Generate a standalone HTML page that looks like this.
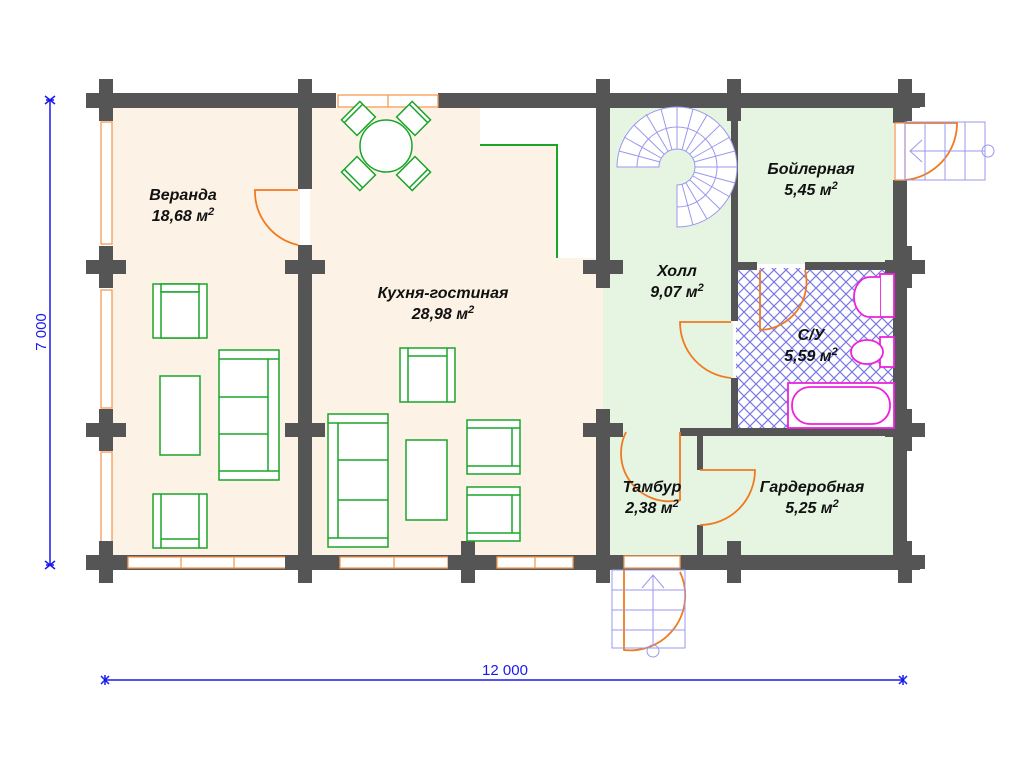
<!DOCTYPE html>
<html><head><meta charset="utf-8"><style>
html,body{margin:0;padding:0;background:#fff;width:1024px;height:768px;overflow:hidden}
text{font-family:"Liberation Sans",sans-serif;font-style:italic;font-weight:bold;fill:#111;font-size:16px}
</style></head><body>
<svg width="1024" height="768" viewBox="0 0 1024 768" xmlns="http://www.w3.org/2000/svg">
<defs>
<pattern id="hatch" width="12" height="12" patternUnits="userSpaceOnUse">
<rect width="12" height="12" fill="#fff"/>
<path d="M0 0L12 12M12 0L0 12" stroke="#7b78e6" stroke-width="1.2"/>
</pattern>
<g id="post"><rect x="-7" y="-21" width="14" height="42" fill="#555"/><rect x="-20" y="-7" width="40" height="14" fill="#555"/></g>
</defs>
<!-- floors -->
<rect x="112" y="108" width="188" height="448" fill="#fdf2e6"/>
<rect x="310" y="108" width="293" height="448" fill="#fdf2e6"/>
<rect x="480" y="108" width="116" height="37" fill="#fff"/>
<rect x="557" y="108" width="39" height="150" fill="#fff"/>
<path d="M480 145H557V258" fill="none" stroke="#1aa52a" stroke-width="2"/>
<line x1="597" y1="108" x2="597" y2="258" stroke="#1aa52a" stroke-width="2"/>
<rect x="603" y="108" width="130" height="448" fill="#e5f5e2"/>
<rect x="736" y="108" width="158" height="156" fill="#e5f5e2"/>
<rect x="736" y="268" width="158" height="162" fill="url(#hatch)"/>
<rect x="700" y="434" width="194" height="122" fill="#e5f5e2"/>
<!-- walls -->
<rect x="86" y="93" width="250" height="15" fill="#555"/>
<rect x="438" y="93" width="482" height="15" fill="#555"/>
<rect x="86" y="555" width="834" height="15" fill="#555"/>
<rect x="298" y="93" width="14" height="96" fill="#555"/>
<rect x="298" y="245" width="14" height="325" fill="#555"/>
<rect x="596" y="93" width="14" height="190" fill="#555"/>
<rect x="596" y="412" width="14" height="158" fill="#555"/>
<rect x="893" y="93" width="14" height="30" fill="#555"/>
<rect x="893" y="180" width="14" height="390" fill="#555"/>
<rect x="731" y="93" width="7" height="228" fill="#555"/>
<rect x="731" y="378" width="7" height="58" fill="#555"/>
<rect x="738" y="262" width="19" height="8" fill="#555"/>
<rect x="805" y="262" width="102" height="8" fill="#555"/>
<rect x="680" y="428" width="227" height="8" fill="#555"/>
<rect x="697" y="436" width="6" height="34" fill="#555"/>
<rect x="697" y="525" width="6" height="35" fill="#555"/>
<!-- windows -->
<g fill="#fff" stroke="#f39a55" stroke-width="1.3">
<rect x="338" y="95" width="100" height="12"/><line x1="388" y1="95" x2="388" y2="107"/>
<rect x="101" y="122" width="11" height="122"/><rect x="101" y="290" width="11" height="118"/><rect x="101" y="452" width="11" height="92"/>
<rect x="128" y="557" width="160" height="11"/><line x1="181" y1="557" x2="181" y2="568"/><line x1="234" y1="557" x2="234" y2="568"/>
<rect x="340" y="557" width="108" height="11"/><line x1="394" y1="557" x2="394" y2="568"/>
<rect x="497" y="557" width="76" height="11"/><line x1="535" y1="557" x2="535" y2="568"/>
<rect x="624" y="556" width="56" height="12"/>
<rect x="895" y="123" width="10" height="57"/>
</g>
<!-- posts -->
<g>
<use href="#post" x="106" y="100"/><use href="#post" x="305" y="100"/><use href="#post" x="603" y="100"/><use href="#post" x="734" y="100"/><use href="#post" x="905" y="100"/>
<use href="#post" x="106" y="267"/><use href="#post" x="305" y="267"/><use href="#post" x="603" y="267"/><use href="#post" x="905" y="267"/>
<use href="#post" x="106" y="430"/><use href="#post" x="305" y="430"/><use href="#post" x="603" y="430"/><use href="#post" x="905" y="430"/>
<use href="#post" x="106" y="562"/><use href="#post" x="305" y="562"/><use href="#post" x="468" y="562"/><use href="#post" x="603" y="562"/><use href="#post" x="734" y="562"/><use href="#post" x="905" y="562"/>
</g>
<!-- doors -->
<g fill="none" stroke="#f07a20" stroke-width="1.8">
<path d="M298 190H255A55 55 0 0 0 298 245"/>
<path d="M731 322H680A56 56 0 0 0 731 378"/>
<path d="M760 270V330A48 48 0 0 0 805 270"/>
<path d="M626 432A48 48 0 0 0 680 500V432"/>
<path d="M700 470H755A55 55 0 0 1 700 525"/>
<path d="M624 570V650A55 55 0 0 0 680 572"/>
<path d="M905 123H957A57 57 0 0 1 905 180"/>
</g>
<!-- stairs -->
<g fill="none" stroke="#9a98ee" stroke-width="1">
<rect x="612" y="570" width="73" height="78"/>
<line x1="612" y1="590" x2="685" y2="590"/><line x1="612" y1="610" x2="685" y2="610"/><line x1="612" y1="630" x2="685" y2="630"/>
<line x1="653" y1="575" x2="653" y2="645"/><path d="M642 588L653 575L664 588"/><circle cx="653" cy="651" r="6"/>
<rect x="905" y="122" width="80" height="58"/>
<line x1="925" y1="122" x2="925" y2="180"/><line x1="945" y1="122" x2="945" y2="180"/><line x1="965" y1="122" x2="965" y2="180"/>
<line x1="910" y1="151" x2="985" y2="151"/><path d="M922 140L910 151L922 162"/><circle cx="988" cy="151" r="6"/>
<!-- spiral: 3/4 ring centre 677,167 -->
<path d="M617 167A60 60 0 1 1 677 227V185A18 18 0 1 0 659 167Z" fill="#fff"/>
<path d="M637 167A40 40 0 1 1 677 207"/>
<path d="M617 167H659M619 151L660 162M624 137L661 158M634 125L664 154M646 114L668 151M661 109L672 150M677 107V149M693 109L682 150M707 115L686 151M720 125L690 154M730 137L693 158M735 151L694 162M737 167H695M735 183L694 172M730 197L693 176M720 209L690 180M707 219L686 183M693 225L682 184"/>
</g>
<!-- furniture -->
<g fill="#fff" stroke="#1aa52a" stroke-width="1.5">
<rect x="153" y="284" width="54" height="54"/><rect x="161" y="284" width="38" height="8"/><rect x="161" y="292" width="38" height="46"/>
<rect x="160" y="376" width="40" height="79"/>
<rect x="219" y="350" width="60" height="130"/><line x1="219" y1="359" x2="279" y2="359"/><line x1="219" y1="471" x2="279" y2="471"/><line x1="268" y1="359" x2="268" y2="471"/><line x1="219" y1="397" x2="268" y2="397"/><line x1="219" y1="434" x2="268" y2="434"/>
<rect x="153" y="494" width="54" height="54"/><line x1="161" y1="494" x2="161" y2="548"/><line x1="199" y1="494" x2="199" y2="548"/><line x1="161" y1="539" x2="199" y2="539"/>
<rect x="328" y="414" width="60" height="133"/><line x1="328" y1="423" x2="388" y2="423"/><line x1="328" y1="538" x2="388" y2="538"/><line x1="338" y1="423" x2="338" y2="538"/><line x1="338" y1="460" x2="388" y2="460"/><line x1="338" y1="500" x2="388" y2="500"/>
<rect x="406" y="440" width="41" height="80"/>
<rect x="400" y="348" width="55" height="54"/><line x1="408" y1="348" x2="408" y2="402"/><line x1="447" y1="348" x2="447" y2="402"/><line x1="408" y1="356" x2="447" y2="356"/>
<rect x="467" y="420" width="53" height="54"/><line x1="467" y1="428" x2="520" y2="428"/><line x1="467" y1="466" x2="520" y2="466"/><line x1="512" y1="428" x2="512" y2="466"/>
<rect x="467" y="487" width="53" height="54"/><line x1="467" y1="495" x2="520" y2="495"/><line x1="467" y1="533" x2="520" y2="533"/><line x1="512" y1="495" x2="512" y2="533"/>
<g transform="translate(386 146)">
<g transform="rotate(45)"><rect x="-13" y="-50" width="26" height="22"/><line x1="-13" y1="-46" x2="13" y2="-46"/></g>
<g transform="rotate(135)"><rect x="-13" y="-50" width="26" height="22"/><line x1="-13" y1="-46" x2="13" y2="-46"/></g>
<g transform="rotate(225)"><rect x="-13" y="-50" width="26" height="22"/><line x1="-13" y1="-46" x2="13" y2="-46"/></g>
<g transform="rotate(315)"><rect x="-13" y="-50" width="26" height="22"/><line x1="-13" y1="-46" x2="13" y2="-46"/></g>
<circle r="26"/>
</g>
</g>
<!-- bathroom fixtures -->
<g fill="#fff" stroke="#ee22dd" stroke-width="1.8">
<rect x="788" y="383" width="106" height="45"/><rect x="792" y="387" width="98" height="37" rx="18"/>
<rect x="880" y="274" width="14" height="43"/><path d="M880 277H870A16 20 0 0 0 870 317H880"/>
<rect x="880" y="337" width="14" height="30"/><ellipse cx="867" cy="352" rx="16" ry="12"/>
</g>
<!-- labels -->
<text x="183" y="200" text-anchor="middle">Веранда</text>
<text x="183" y="221" text-anchor="middle">18,68 м<tspan dy="-6" font-size="11">2</tspan></text>
<text x="443" y="298" text-anchor="middle">Кухня-гостиная</text>
<text x="443" y="319" text-anchor="middle">28,98 м<tspan dy="-6" font-size="11">2</tspan></text>
<text x="677" y="276" text-anchor="middle">Холл</text>
<text x="677" y="297" text-anchor="middle">9,07 м<tspan dy="-6" font-size="11">2</tspan></text>
<text x="811" y="174" text-anchor="middle">Бойлерная</text>
<text x="811" y="195" text-anchor="middle">5,45 м<tspan dy="-6" font-size="11">2</tspan></text>
<text x="811" y="340" text-anchor="middle">С/У</text>
<text x="811" y="361" text-anchor="middle">5,59 м<tspan dy="-6" font-size="11">2</tspan></text>
<text x="652" y="492" text-anchor="middle">Тамбур</text>
<text x="652" y="513" text-anchor="middle">2,38 м<tspan dy="-6" font-size="11">2</tspan></text>
<text x="812" y="492" text-anchor="middle">Гардеробная</text>
<text x="812" y="513" text-anchor="middle">5,25 м<tspan dy="-6" font-size="11">2</tspan></text>
<!-- dimensions -->
<g stroke="#1a1aee" stroke-width="1.5">
<line x1="50" y1="100" x2="50" y2="565"/><line x1="105" y1="680" x2="903" y2="680"/>
<path d="M45 96L55 104M45 104L55 96M46 100H54M45 561L55 569M45 569L55 561M46 565H54"/>
<path d="M101 676L109 684M101 684L109 676M105 675V685M899 676L907 684M899 684L907 676M903 675V685"/>
</g>
<text x="505" y="675" text-anchor="middle" style="font-style:normal;font-weight:normal;fill:#1a1aee;font-size:15px">12 000</text>
<text transform="translate(46 332) rotate(-90)" text-anchor="middle" style="font-style:normal;font-weight:normal;fill:#1a1aee;font-size:15px">7 000</text>
</svg>
</body></html>
